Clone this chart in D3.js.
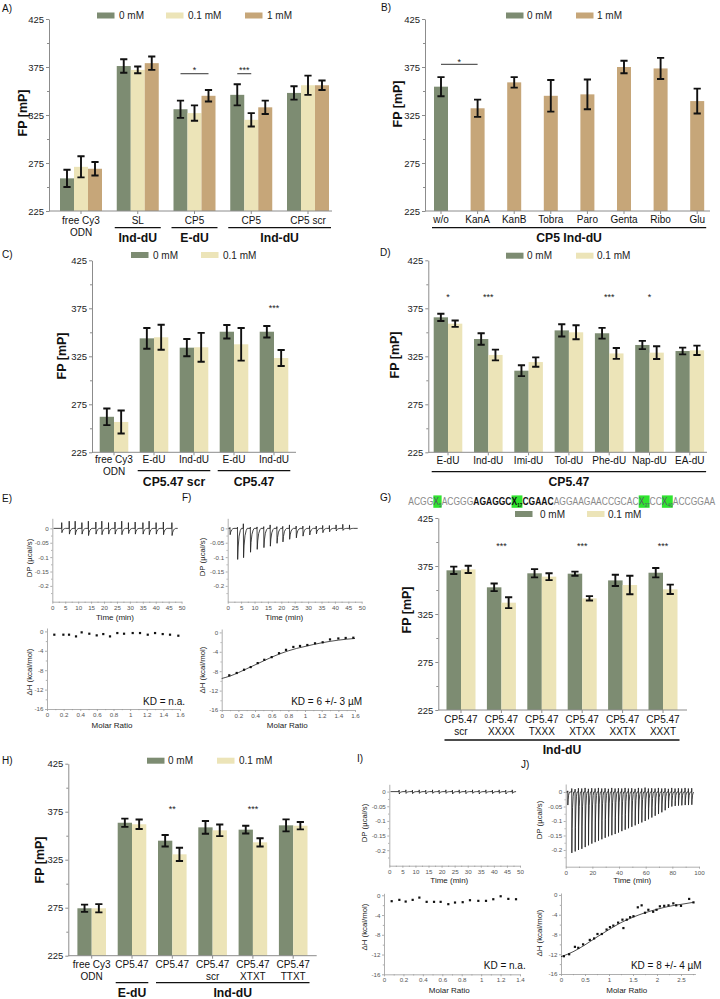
<!DOCTYPE html>
<html><head><meta charset="utf-8">
<script src="https://cdn.jsdelivr.net/npm/d3@7"></script>
<style>body{margin:0;background:#fff}svg{display:block}text{font-family:"Liberation Sans",Arial,sans-serif}</style>
</head><body><svg id="fig" width="720" height="999"></svg>
<script>
const FONT='"Liberation Sans",Arial,sans-serif';
const COL0="#7d8c72", COL01="#ece4b8", COL1="#c6a679", AX="#8c8c8c";
const yTicks=[225,275,325,375,425], yMinor=[250,300,350,400];

// ---------- Panel A ----------
const catsA=[["free Cy3","ODN"],["SL"],["CP5"],["CP5"],["CP5 scr"]];
const seriesA=["0 mM","0.1 mM","1 mM"];
const valsA0=[259,376,331,346,348], errA0=[9,7,9,11,7];
const valsA01=[271,372,327,320,356], errA01=[11,3.5,8,7,10];
const valsA1=[269,379,345,333,356], errA1=[7,7,6,7,5];
const groupsA=[{label:"Ind-dU",from:1,to:1},{label:"E-dU",from:2,to:2},{label:"Ind-dU",from:3,to:4}];
const sigA=[{cat:2,text:"*",from:0,to:2,ly:368,sy:374},{cat:3,text:"***",from:0,to:1,ly:368,sy:374}];

// ---------- Panel B ----------
const catsB=[["w/o"],["KanA"],["KanB"],["Tobra"],["Paro"],["Genta"],["Ribo"],["Glu"]];
const seriesB=["0 mM","1 mM"];
const concB=[0,1,1,1,1,1,1,1];
const valsB=[354.5,332,359,345,346.5,375,373.5,339.5];
const errB=[10,9,5.5,16.5,15.5,6.5,11,13];
const groupsB=[{label:"CP5 Ind-dU",from:0,to:7}];
const sigB=[{cat:0,text:"*",fromCat:0,toCat:1,ly:377.8,sy:383}];

// ---------- Panel C ----------
const catsC=[["free Cy3","ODN"],["E-dU"],["Ind-dU"],["E-dU"],["Ind-dU"]];
const seriesC=["0 mM","0.1 mM"];
const valsC0=[262,343.7,334,350.6,350.6], errC0=[8.7,10.8,9,7,6];
const valsC01=[256.6,344.8,334.4,337.5,323.2], errC01=[12,13,15,17,8.3];
const groupsC=[{label:"CP5.47 scr",from:1,to:2},{label:"CP5.47",from:3,to:4}];
const sigC=[{cat:4,text:"***",sy:377.7}];

// ---------- Panel D ----------
const catsD=[["E-dU"],["Ind-dU"],["Imi-dU"],["Tol-dU"],["Phe-dU"],["Nap-dU"],["EA-dU"]];
const valsD0=[365.6,343,310,352,349,336.8,330.5], errD0=[3.8,6,5.7,6.4,5.6,4.3,3.5];
const valsD01=[359,326.4,319,350,328,328.8,331.2], errD01=[3.3,5.6,4.9,7.3,5.7,6.6,4.9];
const groupsD=[{label:"CP5.47",from:0,to:6}];
const sigD=[{cat:0,text:"*",sy:389},{cat:1,text:"***",sy:389},{cat:4,text:"***",sy:389},{cat:5,text:"*",sy:389}];

// ---------- Panel G ----------
const seqParts=[["ACGG",0],["X",2,"5"],["ACGGG",0],["AGAGGC",1],["X",3,"17"],["CGAAC",1],["AGGAAGAACCGCAC",0],["X",2,"37"],["CC",0],["X",2,"40"],["ACCGGAA",0]];
const catsG=[["CP5.47","scr"],["CP5.47","XXXX"],["CP5.47","TXXX"],["CP5.47","XTXX"],["CP5.47","XXTX"],["CP5.47","XXXT"]];
const valsG0=[370.5,352.8,367.4,367,360,368], errG0=[3.8,4,4.3,2.1,5.9,4.9];
const valsG01=[371.5,336.8,363.9,341.3,355.2,350.7], errG01=[3.8,5.7,3.6,2.3,9.7,4.9];
const groupsG=[{label:"Ind-dU",from:0,to:5}];
const sigG=[{cat:1,text:"***",sy:398.6},{cat:3,text:"***",sy:398.6},{cat:5,text:"***",sy:398.6}];

// ---------- Panel H ----------
const catsH=[["free Cy3","ODN"],["CP5.47"],["CP5.47"],["CP5.47","scr"],["CP5.47","XTXT"],["CP5.47","TTXT"]];
const valsH0=[274.4,363.5,344.8,358.7,356.3,360.8], errH0=[3.8,4.3,6,6.6,4,6.25];
const valsH01=[274.4,361.9,330.6,355.6,343.1,360.4], errH01=[4.3,4.9,6.9,6,4.3,3.8];
const groupsH=[{label:"E-dU",from:1,to:1},{label:"Ind-dU",from:2,to:5}];
const sigH=[{cat:2,text:"**",sy:379.6},{cat:4,text:"***",sy:379.6}];

// ---------- ITC data ----------
const dpYTicks=[0,-0.05,-0.1,-0.15,-0.2], dpYMinor=[-0.025,-0.075,-0.125,-0.175,-0.225];
const t50Ticks=[0,5,10,15,20,25,30,35,40,45,50], t50Minor=[2.5,7.5,12.5,17.5,22.5,27.5,32.5,37.5,42.5,47.5];
const t100Ticks=[0,20,40,60,80,100], t100Minor=[10,30,50,70,90];
const isoYTicks=[0,-4,-8,-12,-16], isoYMinor=[-2,-6,-10,-14];
const mr16Ticks=[0,0.2,0.4,0.6,0.8,1,1.2,1.4,1.6], mr16Minor=[0.1,0.3,0.5,0.7,0.9,1.1,1.3,1.5];
const mr14Ticks=[0,0.2,0.4,0.6,0.8,1,1.2,1.4], mr14Minor=[0.1,0.3,0.5,0.7,0.9,1.1,1.3];
const mr25Ticks=[0,0.5,1,1.5,2,2.5], mr25Minor=[0.25,0.75,1.25,1.75,2.25,2.75];

const injE=[3.6,6.5,8.8,11.4,13.9,16.8,19.1,21.7,24.2,26.8,29.4,32,35,37.4,40.1,42.9,46.2];
const upE=[0.02,0.025,0.025,0.02,0.025,0.022,0.025,0.02,0.022,0.025,0.02,0.022,0.02,0.025,0.02,0.022,0.02];
const downE=[-0.015,-0.02,-0.022,-0.02,-0.025,-0.02,-0.022,-0.02,-0.02,-0.022,-0.018,-0.02,-0.02,-0.022,-0.02,-0.022,-0.025];
const mrE=[0.088,0.197,0.265,0.349,0.417,0.509,0.598,0.677,0.758,0.846,0.927,1.031,1.119,1.212,1.3,1.392,1.48,1.58];
const dhE=[-0.68,-0.68,-0.68,-1.03,-0.2,-0.48,-0.82,-0.55,-1.03,-0.34,-0.48,-0.34,-0.34,-0.68,-0.34,-0.55,-0.68,-0.89];

const injF=[0.8,3.6,5.8,8.4,10.9,13.4,15.8,18.3,20.5,23,25.5,28,30.5,33,35.4,37.9,40.4,42.9,45.4];
const upF=[0.003,0.004,0.016,0.004,0.005,0.006,0.012,0.006,0.007,0.012,0.008,0.008,0.009,0.008,0.01,0.01,0.012,0.014,0.012];
const downF=[-0.022,-0.108,-0.102,-0.083,-0.073,-0.067,-0.062,-0.052,-0.047,-0.038,-0.033,-0.027,-0.023,-0.019,-0.015,-0.012,-0.009,-0.007,-0.004];
const mrF=[0.091,0.18,0.268,0.348,0.432,0.511,0.6,0.688,0.772,0.86,0.94,1.028,1.12,1.212,1.3,1.4,1.488,1.58];
const dhF=[-8.85,-8.37,-7.7,-7.15,-6.33,-5.65,-5.1,-4.29,-3.6,-3.0,-2.8,-2.6,-2.25,-2.04,-1.45,-1.25,-1.15,-1.1];
const fitFx=[0,0.1,0.2,0.3,0.4,0.5,0.6,0.7,0.8,0.9,1.0,1.1,1.2,1.3,1.4,1.5,1.6];
const fitFy=[-9.5,-9.0,-8.3,-7.5,-6.7,-5.9,-5.1,-4.4,-3.8,-3.3,-2.9,-2.5,-2.15,-1.85,-1.6,-1.4,-1.25];

const injI=[3.7,6.3,8.8,11.4,13.9,16.5,19,21.6,24.1,26.7,29.2,31.8,34.3,36.9,39.4,42,44.5,47];
const upI=[0.005,0.006,0.005,0.006,0.005,0.006,0.005,0.006,0.005,0.006,0.005,0.006,0.005,0.006,0.005,0.006,0.005,0.006];
const downI=[-0.008,-0.006,-0.007,-0.006,-0.008,-0.006,-0.007,-0.006,-0.008,-0.006,-0.007,-0.006,-0.008,-0.006,-0.007,-0.006,-0.008,-0.006];
const mrI=[0.079,0.158,0.223,0.295,0.364,0.439,0.515,0.583,0.662,0.731,0.81,0.885,0.971,1.05,1.125,1.201,1.28,1.359];
const dhI=[-1.2,-0.93,-1.27,-0.93,-0.47,-1.33,-1.33,-1.33,-1.8,-1.47,-1.4,-1.0,-1.13,-1.13,-0.8,-0.2,-0.73,-0.8];

const injJ=[1.5,4.5,7,9.5,12,14.5,17,19.5,22,24.5,27,29.5,32,34.5,37,39.5,42,44.5,47,49.5,52,54.5,57,59.5,62,64.5,67,69.5,72,74.5,77,79.5,82,84.5,87,89.5,92,94.5];
const upJ=[0.004,0.012,0.01,0.013,0.012,0.014,0.011,0.013,0.012,0.014,0.012,0.013,0.011,0.014,0.012,0.013,0.012,0.014,0.012,0.013,0.011,0.014,0.012,0.015,0.012,0.013,0.012,0.014,0.012,0.013,0.011,0.014,0.012,0.013,0.012,0.014,0.012,0.013];
const downJ=[-0.045,-0.21,-0.205,-0.2,-0.196,-0.19,-0.184,-0.178,-0.173,-0.168,-0.163,-0.158,-0.153,-0.149,-0.145,-0.14,-0.135,-0.13,-0.125,-0.12,-0.115,-0.11,-0.105,-0.1,-0.094,-0.088,-0.082,-0.076,-0.07,-0.063,-0.055,-0.05,-0.048,-0.047,-0.046,-0.045,-0.045,-0.044];
const mrJ=[0.06,0.17,0.29,0.36,0.46,0.6,0.69,0.76,0.85,0.95,1.02,1.09,1.19,1.28,1.3,1.37,1.44,1.51,1.6,1.68,1.75,1.82,1.92,1.99,2.06,2.15,2.24,2.34,2.4,2.5,2.67,2.76];
const dhJ=[-12.4,-12.0,-10.5,-10.7,-10.0,-9.1,-8.8,-7.9,-7.9,-7.0,-6.5,-6.2,-5.6,-5.0,-6.7,-5.0,-4.5,-4.3,-2.5,-2.1,-3.6,-3.0,-3.4,-3.0,-2.3,-2.2,-2.1,-1.7,-2.1,-2.2,-0.8,-1.5];
const fitJx=[0,0.25,0.5,0.75,1.0,1.25,1.5,1.75,2.0,2.25,2.5,2.75];
const fitJy=[-12.5,-11.5,-10.1,-8.5,-7.0,-5.6,-4.5,-3.6,-2.9,-2.3,-1.9,-1.5];

const svg=d3.select("#fig");

function label(x,y,s,o={}){
  const t=svg.append("text").attr("x",x).attr("y",y).attr("font-size",o.fs||10)
    .attr("fill",o.fill||"#111").attr("text-anchor",o.anchor||"start").text(s);
  if(o.bold) t.attr("font-weight","bold");
  if(o.rot!==undefined) t.attr("transform",`rotate(${o.rot},${x},${y})`);
  return t;
}

function legend(items,y){
  items.forEach(it=>{
    svg.append("rect").attr("x",it.x).attr("y",y-3).attr("width",17.5).attr("height",6).attr("fill",it.color);
    label(it.tx,y+3.6,it.label,{fs:10,fill:"#222"});
  });
}

function barPanel(o){
  const g=svg.append("g");
  const y=d3.scaleLinear().domain([yTicks[0],yTicks[yTicks.length-1]]).range([o.yb,o.yt]);
  const n=o.cats.length, nS=o.vals.length;
  const pi=1-o.bw*nS/o.step;
  const x0=d3.scaleBand().domain(d3.range(n)).range([o.c0-o.step/2,o.c0-o.step/2+n*o.step]).paddingInner(pi).paddingOuter(pi/2);
  const x1=d3.scaleBand().domain(d3.range(nS)).range([0,x0.bandwidth()]);
  const base=y(yTicks[0]);
  const ya=g.append("g").attr("transform",`translate(${o.ax},0)`)
    .call(d3.axisLeft(y).tickValues(yTicks).tickSize(3).tickSizeOuter(0).tickPadding(2).tickFormat(d=>String(d)));
  ya.select(".domain").attr("stroke",AX);
  ya.selectAll(".tick line").attr("stroke",AX);
  ya.selectAll(".tick text").attr("font-size",9.5).attr("fill","#222").attr("font-family",FONT);
  const ym=g.append("g").attr("transform",`translate(${o.ax},0)`)
    .call(d3.axisLeft(y).tickValues(yMinor).tickSize(2).tickFormat(""));
  ym.select(".domain").remove(); ym.selectAll("line").attr("stroke",AX);
  const cx=(i,s)=>x0(i)+x1(s)+x1.bandwidth()/2;
  o.vals.forEach((vals,s)=>{
    g.selectAll(null).data(vals).join("rect")
      .attr("x",(d,i)=>x0(i)+x1(s)).attr("width",x1.bandwidth())
      .attr("y",d=>y(d)).attr("height",d=>base-y(d))
      .attr("fill",(d,i)=>o.colorAt?o.colorAt(s,i):o.colors[s]);
  });
  g.append("line").attr("x1",o.ax).attr("x2",o.axEnd).attr("y1",base).attr("y2",base).attr("stroke",AX);
  g.selectAll(null).data(d3.range(n)).join("line")
    .attr("x1",i=>x0(i)+x0.bandwidth()/2).attr("x2",i=>x0(i)+x0.bandwidth()/2)
    .attr("y1",base).attr("y2",base+3).attr("stroke",AX);
  o.vals.forEach((vals,s)=>{
    g.selectAll(null).data(vals).join("path")
      .attr("d",(v,i)=>{const e=o.errs[s][i],c=cx(i,s),t=y(v+e),b=y(v-e),w=3.6;
        return `M${c-w},${t}H${c+w}M${c},${t}V${b}M${c-w},${b}H${c+w}`;})
      .attr("stroke","#111").attr("stroke-width",1.9).attr("fill","none");
  });
  o.cats.forEach((lines,i)=>{
    const t=g.append("text").attr("text-anchor","middle").attr("font-size",10).attr("fill","#111")
      .attr("font-family",FONT);
    lines.forEach((ln,k)=>t.append("tspan").attr("x",x0(i)+x0.bandwidth()/2).attr("y",base+o.lab1+k*12.3).text(ln));
  });
  o.groups.forEach(gr=>{
    const a=x0(gr.from)-2, b=x0(gr.to)+x0.bandwidth()+2;
    g.append("line").attr("x1",a).attr("x2",b).attr("y1",base+o.ul).attr("y2",base+o.ul).attr("stroke","#111").attr("stroke-width",1.3);
    g.append("text").attr("x",(a+b)/2).attr("y",base+o.gl).attr("text-anchor","middle").attr("font-size",12.2)
      .attr("font-weight","bold").attr("fill","#111").attr("font-family",FONT).text(gr.label);
  });
  o.sig.forEach(sg=>{
    let mx;
    if(sg.fromCat!==undefined){
      const a=cx(sg.fromCat,0), b=cx(sg.toCat,0); mx=(a+b)/2;
      g.append("line").attr("x1",a).attr("x2",b).attr("y1",y(sg.ly)).attr("y2",y(sg.ly)).attr("stroke","#333").attr("stroke-width",1);
    } else if(sg.from!==undefined){
      const a=cx(sg.cat,sg.from), b=cx(sg.cat,sg.to); mx=(a+b)/2;
      g.append("line").attr("x1",a).attr("x2",b).attr("y1",y(sg.ly)).attr("y2",y(sg.ly)).attr("stroke","#333").attr("stroke-width",1);
    } else mx=x0(sg.cat)+x0.bandwidth()/2;
    g.append("text").attr("x",mx).attr("y",y(sg.sy)+5.2).attr("text-anchor","middle").attr("font-size",9)
      .attr("fill","#222").attr("font-family",FONT).text(sg.text);
  });
  label(o.tx,o.ty,"FP [mP]",{fs:12.5,bold:true,anchor:"middle",rot:-90});
}

function itcAxes(g,x,y,xt,xm,yt,ym){
  const l=g.append("g").attr("transform",`translate(${x.range()[0]},0)`)
    .call(d3.axisLeft(y).tickValues(yt).tickSize(2).tickSizeOuter(0).tickPadding(1.5).tickFormat(d=>String(d)));
  const lm=g.append("g").attr("transform",`translate(${x.range()[0]},0)`)
    .call(d3.axisLeft(y).tickValues(ym).tickSize(1.2).tickFormat(""));
  const b=g.append("g").attr("transform",`translate(0,${y.range()[0]})`)
    .call(d3.axisBottom(x).tickValues(xt).tickSize(2).tickSizeOuter(0).tickPadding(1.5).tickFormat(d=>String(d)));
  const bm=g.append("g").attr("transform",`translate(0,${y.range()[0]})`)
    .call(d3.axisBottom(x).tickValues(xm).tickSize(1.2).tickFormat(""));
  lm.select(".domain").remove(); bm.select(".domain").remove();
  [l,lm,b,bm].forEach(a=>{a.selectAll("path,line").attr("stroke","#9a9a9a").attr("stroke-width",0.8);
    a.selectAll("text").attr("font-size",6.2).attr("fill","#555").attr("font-family",FONT);});
}
function dpPanel(o){
  const g=svg.append("g");
  const x=d3.scaleLinear().domain(o.td).range(o.xr);
  const y=d3.scaleLinear().domain(o.yd).range(o.yr);
  itcAxes(g,x,y,o.xt,o.xm,dpYTicks,dpYMinor);
  const pts=[[o.t0,0]];
  o.inj.forEach((t,i)=>{const d=o.down[i];
    pts.push([t,0],[t+0.04,o.up[i]],[t+0.12,d],[t+0.3,d*0.6],[t+0.65,d*0.25],[t+1.1,d*0.07],[t+1.5,0]);});
  pts.push([o.t1,0]);
  g.append("path").attr("d",d3.line().x(d=>x(d[0])).y(d=>y(d[1]))(pts))
    .attr("fill","none").attr("stroke","#222").attr("stroke-width",0.85);
  label(o.titX,o.titY,"DP (µcal/s)",{fs:7.8,fill:"#222",anchor:"middle",rot:-90});
  label(o.timeX,o.timeY,"Time (min)",{fs:8,fill:"#222",anchor:"middle"});
}
function isoPanel(o){
  const g=svg.append("g");
  const x=d3.scaleLinear().domain(o.td).range(o.xr);
  const y=d3.scaleLinear().domain([-16,o.ytop]).range(o.yr);
  itcAxes(g,x,y,o.xt,o.xm,isoYTicks,isoYMinor);
  if(o.fx){
    g.append("path").attr("d",d3.line().curve(d3.curveMonotoneX).x((d,i)=>x(o.fx[i])).y(d=>y(d))(o.fy))
      .attr("fill","none").attr("stroke","#222").attr("stroke-width",0.8);
  }
  g.selectAll(null).data(o.mr).join("rect")
    .attr("x",d=>x(d)-1.1).attr("y",(d,i)=>y(o.dh[i])-1.1).attr("width",2.2).attr("height",2.2).attr("fill","#111");
  label(o.titX,o.titY,"ΔH (kcal/mol)",{fs:7.8,fill:"#222",anchor:"middle",rot:-90});
  label(o.molX,o.molY,"Molar Ratio",{fs:8,fill:"#222",anchor:"middle"});
  label(o.kdX,o.kdY,o.kd,{fs:10,fill:"#111",anchor:"end"});
}

// ---------- draw A ----------
label(2,12,"A)",{fs:10});
legend([{x:97,tx:119,label:seriesA[0],color:COL0},{x:166,tx:188,label:seriesA[1],color:COL01},{x:245,tx:267,label:seriesA[2],color:COL1}],15.5);
barPanel({ax:49,axEnd:332,yb:211,yt:19,c0:81,step:56.75,bw:14,cats:catsA,
  vals:[valsA0,valsA01,valsA1],errs:[errA0,errA01,errA1],colors:[COL0,COL01,COL1],
  lab1:12.5,ul:16.7,gl:31.2,groups:groupsA,sig:sigA,tx:27,ty:113});

// ---------- draw B ----------
label(381,11,"B)",{fs:10});
legend([{x:506,tx:527,label:seriesB[0],color:COL0},{x:576,tx:597,label:seriesB[1],color:COL1}],15.5);
barPanel({ax:425,axEnd:710,yb:211,yt:19,c0:441,step:36.6,bw:14,cats:catsB,
  vals:[valsB],errs:[errB],colorAt:(s,i)=>concB[i]===0?COL0:COL1,
  lab1:11.5,ul:16.7,gl:31.2,groups:groupsB,sig:sigB,tx:402,ty:104});

// ---------- draw C ----------
label(2,258,"C)",{fs:10});
legend([{x:131,tx:153,label:seriesC[0],color:COL0},{x:201,tx:223,label:seriesC[1],color:COL01}],255);
barPanel({ax:92,axEnd:296,yb:452.3,yt:260.3,c0:114,step:40,bw:14.3,cats:catsC,
  vals:[valsC0,valsC01],errs:[errC0,errC01],colors:[COL0,COL01],
  lab1:10.5,ul:18.4,gl:33.4,groups:groupsC,sig:sigC,tx:66,ty:356});

// ---------- draw D ----------
label(380,256,"D)",{fs:10});
legend([{x:506,tx:527,label:seriesC[0],color:COL0},{x:576,tx:597,label:seriesC[1],color:COL01}],255.7);
barPanel({ax:428.3,axEnd:707,yb:452.3,yt:260.3,c0:448,step:40.3,bw:14.3,cats:catsD,
  vals:[valsD0,valsD01],errs:[errD0,errD01],colors:[COL0,COL01],
  lab1:12,ul:19.4,gl:33.8,groups:groupsD,sig:sigD,tx:399,ty:355});

// ---------- draw G ----------
label(380,501,"G)",{fs:10});
(function(){
  const sg=svg.append("g");
  let cx=0; const fs=10, base=505;
  seqParts.forEach(p=>{
    const bold=p[1]===1||p[1]===3, hl=p[1]>=2;
    const startX=cx;
    const t=sg.append("text").attr("x",cx).attr("y",base).attr("font-size",fs)
      .attr("font-weight",bold?"bold":"normal").attr("fill",bold?"#111":(hl?"#556":"#8a8a8a")).text(p[0]);
    cx+=t.node().getComputedTextLength();
    if(p[2]){
      const s=sg.append("text").attr("x",cx).attr("y",base+2).attr("font-size",fs*0.55)
        .attr("font-weight",bold?"bold":"normal").attr("fill",bold?"#111":"#556").text(p[2]);
      cx+=s.node().getComputedTextLength();
    }
    if(hl) sg.insert("rect",":first-child").attr("x",startX).attr("y",base-9.6).attr("width",cx-startX).attr("height",12.4).attr("fill","#2fe52f");
  });
  sg.attr("transform",`translate(408.3,0) scale(${307/cx},1)`);
})();
legend([{x:515,tx:540,label:seriesC[0],color:COL0},{x:587,tx:608,label:seriesC[1],color:COL01}],514);
barPanel({ax:438.3,axEnd:687,yb:710,yt:518,c0:461,step:40.4,bw:14.5,cats:catsG,
  vals:[valsG0,valsG01],errs:[errG0,errG01],colors:[COL0,COL01],
  lab1:12.8,ul:30,gl:44.2,groups:groupsG,sig:sigG,tx:411,ty:610});

// ---------- draw H ----------
label(2,764,"H)",{fs:10});
legend([{x:147,tx:168,label:seriesC[0],color:COL0},{x:217,tx:239,label:seriesC[1],color:COL01}],760.7);
barPanel({ax:68.3,axEnd:316.7,yb:955.7,yt:763.7,c0:91.7,step:40.3,bw:14.3,cats:catsH,
  vals:[valsH0,valsH01],errs:[errH0,errH01],colors:[COL0,COL01],
  lab1:11.8,ul:27,gl:41.6,groups:groupsH,sig:sigH,tx:44,ty:860});

// ---------- ITC E/F ----------
label(2,502,"E)",{fs:10});
label(182,501,"F)",{fs:10});
dpPanel({td:[0,50],xr:[52.3,181.6],yd:[-0.255,0.035],yr:[601.7,518.3],xt:t50Ticks,xm:t50Minor,
  inj:injE,up:upE,down:downE,t0:0.5,t1:48.5,titX:32,titY:558,timeX:115,timeY:620});
dpPanel({td:[0,50],xr:[227.7,361.7],yd:[-0.255,0.035],yr:[601.7,518.3],xt:t50Ticks,xm:t50Minor,
  inj:injF,up:upF,down:downF,t0:0.3,t1:48.5,titX:205,titY:557,timeX:284.3,timeY:619.5});
isoPanel({td:[0,1.6],xr:[47,180],ytop:0.7,yr:[709,628],xt:mr16Ticks,xm:mr16Minor,mr:mrE,dh:dhE,
  titX:32,titY:672,molX:112,molY:728,kd:"KD = n.a.",kdX:185,kdY:705});
isoPanel({td:[0,1.6],xr:[221.7,355],ytop:0.7,yr:[710,629],xt:mr16Ticks,xm:mr16Minor,mr:mrF,dh:dhF,
  fx:fitFx,fy:fitFy,titX:205,titY:670,molX:287.3,molY:728,kd:"KD = 6 +/- 3 µM",kdX:362,kdY:704.5});

// ---------- ITC I/J ----------
label(357,762,"I)",{fs:10});
label(521,768,"J)",{fs:10});
dpPanel({td:[0,50],xr:[389.3,520],yd:[-0.253,0.025],yr:[865.7,784.3],xt:t50Ticks,xm:t50Minor,
  inj:injI,up:upI,down:downI,t0:0.5,t1:48.5,titX:367,titY:823,timeX:449.3,timeY:883});
dpPanel({td:[0,100],xr:[565.7,699],yd:[-0.2576,0.0276],yr:[866.7,784],xt:t100Ticks,xm:t100Minor,
  inj:injJ,up:upJ,down:downJ,t0:0.5,t1:96,titX:542,titY:820,timeX:632.3,timeY:883});
isoPanel({td:[0,1.4],xr:[384,520],ytop:0.4,yr:[974.3,893.3],xt:mr14Ticks,xm:mr14Minor,mr:mrI,dh:dhI,
  titX:367,titY:927,molX:449.3,molY:993,kd:"KD = n.a.",kdX:525.7,kdY:968.5});
isoPanel({td:[0,2.8],xr:[561,695.4],ytop:0.4,yr:[974,893],xt:mr25Ticks,xm:mr25Minor,mr:mrJ,dh:dhJ,
  fx:fitJx,fy:fitJy,titX:542,titY:933,molX:626.7,molY:992.5,kd:"KD = 8 +/- 4 µM",kdX:701.7,kdY:968.5});
</script></body></html>
